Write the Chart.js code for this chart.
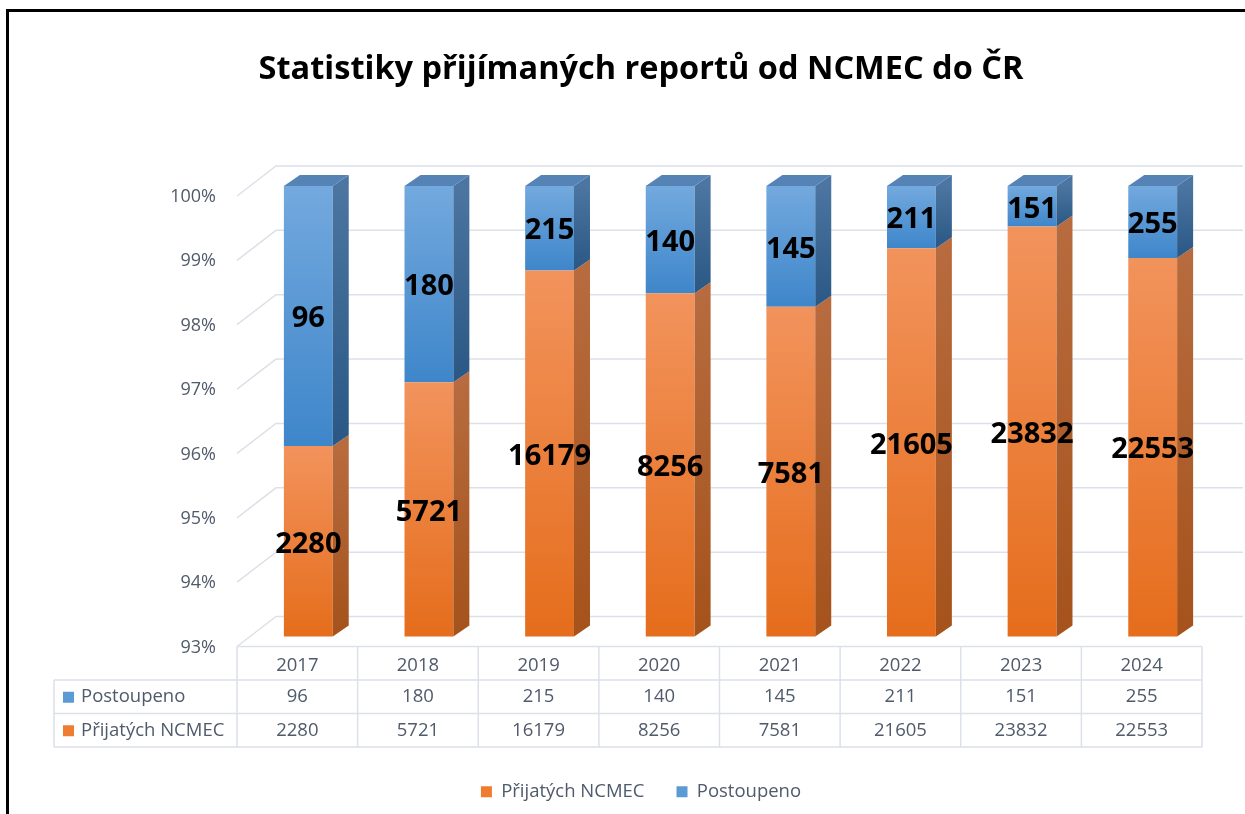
<!DOCTYPE html>
<html>
<head>
<meta charset="utf-8">
<title>Statistiky přijímaných reportů od NCMEC do ČR</title>
<script src="https://cdn.jsdelivr.net/npm/chart.js@4.4.1/dist/chart.umd.min.js"></script>
<style>
  html, body { margin: 0; padding: 0; background: #fff; }
  #wrap { position: relative; width: 1245px; height: 814px; }
  #frame {
    position: absolute; left: 6px; top: 9px; right: 0; bottom: 0;
    border-top: 3px solid #000; border-left: 3px solid #000;
    pointer-events: none;
  }
</style>
</head>
<body>
<div id="wrap">
  <canvas id="chart" width="1245" height="814"></canvas>
  <div id="frame"></div>
</div>
<script>
// data
var years = ["2017", "2018", "2019", "2020", "2021", "2022", "2023", "2024"];
var forwarded = [96, 180, 215, 140, 145, 211, 151, 255];               // Postoupeno
var received = [2280, 5721, 16179, 8256, 7581, 21605, 23832, 22553];   // Přijatých NCMEC
var Y_MIN = 93;
var Y_MAX = 100;

// 100% stacked shares
var receivedPct = received.map(function (v, i) { return v / (v + forwarded[i]) * 100; });
var forwardedPct = forwarded.map(function (v, i) { return v / (v + received[i]) * 100; });

var FONT = "'Open Sans', 'DejaVu Sans', sans-serif";
var TEXT = "#4f5a6b";
var GRID = "#dce1e9";

var ORANGE = { solid: "#ef7d31", light: "#f2935c", dark: "#e56d1c", sideLight: "#b76b3e", sideDark: "#a5521b" };
var BLUE = { solid: "#5b9bd5", light: "#73a9de", dark: "#3e86ca", sideLight: "#4c75a1", sideDark: "#2a5784", top: "#5583b5" };

// 3d offsets
var DEPTH_X = 16, DEPTH_Y = -11;       // bar side
var FRONT_X = -11, FRONT_Y = 10;       // bar plane -> front edge of the walls
var BACK_X = 28, BACK_Y = -20;         // bar plane -> back wall

function frontFill(dsIndex) {
  return function (c) {
    var col = dsIndex === 0 ? ORANGE : BLUE;
    var chart = c.chart, area = chart.chartArea, y = chart.scales.y;
    if (!area || !y || c.type !== "data") return col.solid;
    var i = c.dataIndex;
    var hi = dsIndex === 0 ? receivedPct[i] : Y_MAX;
    var lo = dsIndex === 0 ? Y_MIN : receivedPct[i];
    var g = chart.ctx.createLinearGradient(0, y.getPixelForValue(hi), 0, y.getPixelForValue(lo));
    g.addColorStop(0, col.light);
    g.addColorStop(1, col.dark);
    return g;
  };
}

function barBox(el, area) {
  var p = el.getProps(["x", "y", "base", "width"], true);
  var top = Math.min(p.y, p.base), bottom = Math.max(p.y, p.base);
  return {
    left: p.x - p.width / 2,
    right: p.x + p.width / 2,
    cx: p.x,
    top: Math.max(top, area.top),
    bottom: Math.min(bottom, area.bottom)
  };
}

var threeD = {
  id: "threeD",
  beforeDatasetsDraw: function (chart) {
    var ctx = chart.ctx, area = chart.chartArea, y = chart.scales.y;
    ctx.save();
    ctx.strokeStyle = GRID;
    ctx.lineWidth = 1.5;
    y.ticks.forEach(function (t) {
      var py = y.getPixelForValue(t.value);
      ctx.beginPath();
      ctx.moveTo(area.left + FRONT_X, py + FRONT_Y);
      ctx.lineTo(area.left + BACK_X, py + BACK_Y);
      ctx.lineTo(area.right + 30, py + BACK_Y);
      ctx.stroke();
    });
    ctx.restore();
  },
  afterDatasetsDraw: function (chart) {
    var ctx = chart.ctx, area = chart.chartArea;
    var nSets = chart.data.datasets.length;
    ctx.save();
    chart.data.datasets.forEach(function (ds, d) {
      var col = d === 0 ? ORANGE : BLUE;
      chart.getDatasetMeta(d).data.forEach(function (el) {
        var b = barBox(el, area);
        var g = ctx.createLinearGradient(0, b.top, 0, b.bottom);
        g.addColorStop(0, col.sideLight);
        g.addColorStop(1, col.sideDark);
        ctx.fillStyle = g;
        ctx.beginPath();
        ctx.moveTo(b.right, b.top);
        ctx.lineTo(b.right + DEPTH_X, b.top + DEPTH_Y);
        ctx.lineTo(b.right + DEPTH_X, b.bottom + DEPTH_Y);
        ctx.lineTo(b.right, b.bottom);
        ctx.closePath();
        ctx.fill();
        if (d === nSets - 1) {
          ctx.fillStyle = col.top;
          ctx.beginPath();
          ctx.moveTo(b.left, b.top);
          ctx.lineTo(b.left + DEPTH_X, b.top + DEPTH_Y);
          ctx.lineTo(b.right + DEPTH_X, b.top + DEPTH_Y);
          ctx.lineTo(b.right, b.top);
          ctx.closePath();
          ctx.fill();
        }
      });
    });
    // value labels
    ctx.fillStyle = "#000";
    ctx.font = "bold 29px " + FONT;
    ctx.textAlign = "center";
    ctx.textBaseline = "middle";
    chart.data.datasets.forEach(function (ds, d) {
      var raw = d === 0 ? received : forwarded;
      chart.getDatasetMeta(d).data.forEach(function (el, i) {
        var b = barBox(el, area);
        ctx.fillText(String(raw[i]), b.cx, (b.top + b.bottom) / 2 + 3);
      });
    });
    ctx.restore();
  },
  afterDraw: function (chart) {
    // data table under the plot
    var ctx = chart.ctx, area = chart.chartArea, x = chart.scales.x;
    var half = (x.getPixelForValue(1) - x.getPixelForValue(0)) / 2;
    var left = x.getPixelForValue(0) - half + FRONT_X;
    var right = x.getPixelForValue(years.length - 1) + half + FRONT_X;
    var top = area.bottom + FRONT_Y;
    var rowH = 33.5;
    var labelLeft = 54;
    var rows = [
      { name: "Postoupeno", values: forwarded, color: BLUE.solid },
      { name: "Přijatých NCMEC", values: received, color: ORANGE.solid }
    ];
    ctx.save();
    ctx.strokeStyle = GRID;
    ctx.lineWidth = 1.5;
    ctx.beginPath();
    ctx.moveTo(left, top);
    ctx.lineTo(right, top);
    for (var r = 1; r <= 3; r++) {
      ctx.moveTo(labelLeft, top + r * rowH);
      ctx.lineTo(right, top + r * rowH);
    }
    ctx.moveTo(labelLeft, top + rowH);
    ctx.lineTo(labelLeft, top + 3 * rowH);
    for (var c = 0; c <= years.length; c++) {
      var cx = left + c * half * 2;
      ctx.moveTo(cx, top);
      ctx.lineTo(cx, top + 3 * rowH);
    }
    ctx.stroke();

    ctx.font = "18.5px " + FONT;
    ctx.textBaseline = "middle";
    rows.forEach(function (row, r) {
      var cy = top + (r + 1.5) * rowH;
      ctx.fillStyle = row.color;
      ctx.fillRect(labelLeft + 9, cy - 5, 11, 11);
      ctx.fillStyle = TEXT;
      ctx.textAlign = "left";
      ctx.fillText(row.name, labelLeft + 27, cy);
      ctx.textAlign = "center";
      row.values.forEach(function (v, i) {
        ctx.fillText(String(v), x.getPixelForValue(i) + FRONT_X, cy);
      });
    });
    ctx.restore();
  }
};

new Chart(document.getElementById("chart"), {
  type: "bar",
  data: {
    labels: years,
    datasets: [
      {
        label: "Přijatých NCMEC",
        data: receivedPct,
        backgroundColor: frontFill(0),
        borderWidth: 0,
        barPercentage: 0.405,
        categoryPercentage: 1
      },
      {
        label: "Postoupeno",
        data: forwardedPct,
        backgroundColor: frontFill(1),
        borderWidth: 0,
        barPercentage: 0.405,
        categoryPercentage: 1
      }
    ]
  },
  options: {
    responsive: false,
    animation: false,
    layout: { padding: { left: 69, right: 32, top: 0, bottom: 3 } },
    plugins: {
      title: {
        display: true,
        text: "Statistiky přijímaných reportů od NCMEC do ČR",
        color: "#000",
        font: { family: FONT, size: 32.5, weight: "bold" },
        padding: { top: 50, bottom: 97 }
      },
      legend: {
        position: "bottom",
        labels: {
          boxWidth: 11,
          boxHeight: 11,
          padding: 32,
          color: TEXT,
          font: { family: FONT, size: 18.5 },
          generateLabels: function (chart) {
            var items = Chart.defaults.plugins.legend.labels.generateLabels(chart);
            items.forEach(function (it, i) {
              var col = i === 0 ? ORANGE.solid : BLUE.solid;
              it.fillStyle = col;
              it.strokeStyle = col;
              it.lineWidth = 0;
            });
            return items;
          }
        }
      },
      tooltip: { enabled: false }
    },
    scales: {
      x: {
        stacked: true,
        grid: { display: false, drawTicks: false },
        border: { display: false },
        ticks: { color: TEXT, font: { family: FONT, size: 18.5 }, labelOffset: FRONT_X, padding: 18 },
        afterFit: function (scale) { scale.height = 114; }
      },
      y: {
        stacked: true,
        min: Y_MIN,
        max: Y_MAX,
        grid: { display: false, drawTicks: false },
        border: { display: false },
        ticks: {
          stepSize: 1,
          color: TEXT,
          font: { family: FONT, size: 18 },
          padding: 32,
          labelOffset: 11,
          callback: function (v) { return v + "%"; }
        },
        afterFit: function (scale) { scale.width = 179; }
      }
    }
  },
  plugins: [threeD]
});
</script>
</body>
</html>
